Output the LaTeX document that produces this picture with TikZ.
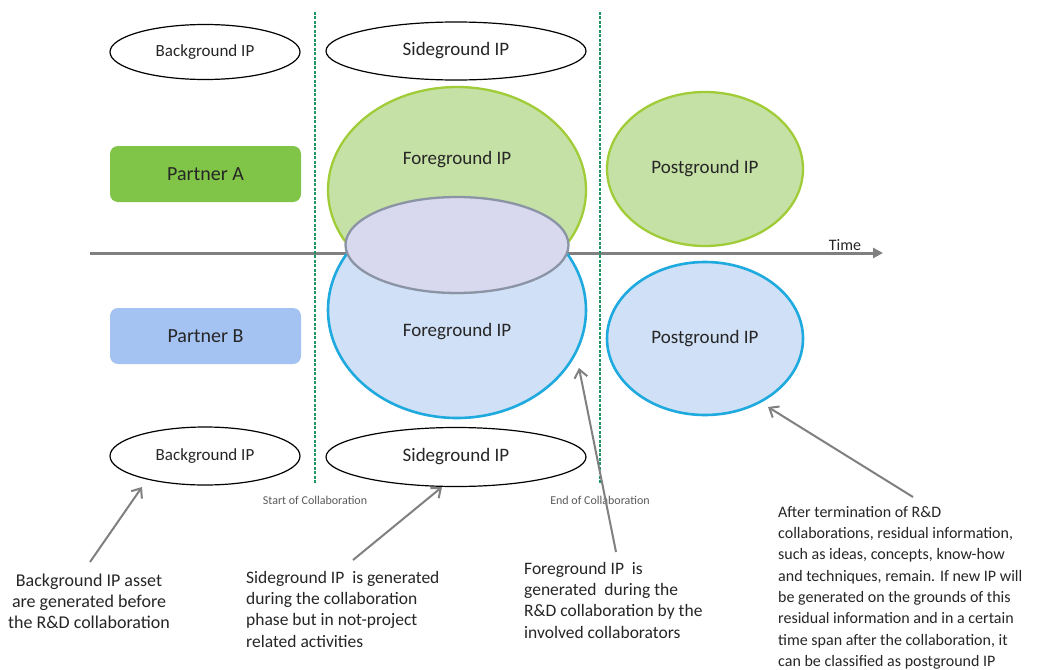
\documentclass[tikz,border=0pt]{standalone}
\usepackage{fontspec}
\setmainfont{Carlito}
\usetikzlibrary{shapes.geometric,arrows.meta}
\definecolor{txt}{RGB}{38,38,38}
\definecolor{pA}{RGB}{128,197,72}
\definecolor{pB}{RGB}{164,194,242}
\definecolor{gfill}{RGB}{198,225,166}
\definecolor{gline}{RGB}{160,204,56}
\definecolor{bfill}{RGB}{208,224,246}
\definecolor{bline}{RGB}{30,170,222}
\definecolor{lfill}{RGB}{216,216,238}
\definecolor{lline}{RGB}{138,148,164}
\definecolor{axisgray}{RGB}{128,128,128}
\definecolor{dash}{RGB}{30,150,100}
\definecolor{small}{RGB}{90,90,90}
\begin{document}
\begin{tikzpicture}[x=1pt,y=-1pt,
  ipwhite/.style={ellipse, draw=black, line width=1.2pt, fill=white, inner sep=0pt, text=txt},
  partner/.style={rounded corners=8pt, minimum width=191pt, minimum height=56pt, inner sep=0pt, text=black!85, font=\fontsize{20}{24}\selectfont},
  greenell/.style={ellipse, draw=gline, fill=gfill, line width=2.3pt, inner sep=0pt},
  blueell/.style={ellipse, draw=bline, fill=bfill, line width=2.6pt, inner sep=0pt},
  lavell/.style={ellipse, draw=lline, fill=lfill, line width=2.3pt, inner sep=0pt},
  iplabel/.style={text=txt, inner sep=0pt, font=\fontsize{19}{22}\selectfont},
  note/.style={text=txt, inner sep=0pt, font=\fontsize{16}{21.3}\selectfont},
  bignote/.style={text=txt, inner sep=0pt, font=\fontsize{17.5}{21.3}\selectfont},
  collab/.style={text=small, inner sep=0pt, font=\fontsize{12}{14}\selectfont},
  pointer/.style={draw=axisgray, line width=2pt, -{Straight Barb[length=8pt,width=13pt,line width=2pt]}},
  dashline/.style={draw=dash, line width=1.8pt, dash pattern=on 3pt off 1.5pt}
]
\useasboundingbox[fill=white] (0,0) rectangle (1046,669);

% time axis
\coordinate (t0) at (90,253);
\coordinate (t1) at (883,253);
\draw[draw=axisgray, line width=3pt, -{Triangle[length=10pt,width=10pt]}] (t0) -- (t1);
\node[text=txt, inner sep=0pt, font=\fontsize{16}{18}\selectfont, anchor=base] (time) at (845,250) {Time};

% collaboration borders
\coordinate (s0) at (315,12);
\coordinate (s1) at (315,483);
\coordinate (e0) at (600,12);
\coordinate (e1) at (600,483);
\draw[dashline] (s0) -- (s1);
\draw[dashline] (e0) -- (e1);
\node[collab, anchor=base] (startc) at (315,504) {Start of Collaboration};
\node[collab, anchor=base] (endc) at (600,504) {End of Collaboration};

% background / sideground
\node[ipwhite, minimum width=190pt, minimum height=55pt, font=\fontsize{17}{20}\selectfont] (bgA) at (205,52) {Background IP};
\node[ipwhite, minimum width=260pt, minimum height=58pt, font=\fontsize{19}{22}\selectfont] (sgA) at (456,51) {Sideground IP};
\node[ipwhite, minimum width=190pt, minimum height=58pt, font=\fontsize{17}{20}\selectfont] (bgB) at (205,456) {Background IP};
\node[ipwhite, minimum width=260pt, minimum height=59pt, font=\fontsize{19}{22}\selectfont] (sgB) at (456,457) {Sideground IP};

% partners
\node[partner, fill=pA] (partA) at (205.5,174) {Partner A};
\node[partner, fill=pB] (partB) at (205.5,336) {Partner B};

% foreground
\node[blueell, minimum width=258pt, minimum height=216pt] (fgB) at (457,310) {};
\node[greenell, minimum width=258pt, minimum height=206pt] (fgA) at (457,190) {};
\node[lavell, minimum width=223pt, minimum height=96pt] (joint) at (457,245) {};
\node[iplabel] (fgAl) at (457,160) {Foreground IP};
\node[iplabel] (fgBl) at (457,332) {Foreground IP};

% postground
\node[greenell, minimum width=196pt, minimum height=154pt, font=\fontsize{19}{22}\selectfont, text=txt] (pgA) at (705,169) {Postground IP};
\node[blueell, minimum width=196pt, minimum height=153pt, font=\fontsize{19}{22}\selectfont, text=txt] (pgB) at (705,338.5) {Postground IP};

% notes
\node[text=txt, inner sep=0pt, font=\fontsize{18}{21.3}\selectfont, align=center, anchor=north] (n1) at (89,573.5) {Background IP asset\\are generated before\\the R\&D collaboration};
\node[bignote, align=left, anchor=north west] (n2) at (246,571) {Sideground IP\ \ is generated\\during the collaboration\\phase but in not-project\\related activities};
\node[bignote, align=left, anchor=north west] (n3) at (524,562) {Foreground IP\ \ is\\generated\ \ during the\\R\&D collaboration by the\\involved collaborators};
\node[note, align=left, anchor=north west] (n4) at (778,506) {After termination of R\&D\\collaborations, residual information,\\such as ideas, concepts, know-how\\and techniques, remain. If new IP will\\be generated on the grounds of this\\residual information and in a certain\\time span after the collaboration, it\\can be classified as postground IP};

% pointers
\coordinate (a1s) at (90,562);
\coordinate (a1e) at (142,487);
\coordinate (a2s) at (353,560);
\coordinate (a2e) at (442,487);
\coordinate (a3s) at (616,552);
\coordinate (a3e) at (579,368);
\coordinate (a4s) at (913,497);
\coordinate (a4e) at (768,407);
\draw[pointer] (a1s) -- (a1e);
\draw[pointer] (a2s) -- (a2e);
\draw[pointer] (a3s) -- (a3e);
\draw[pointer] (a4s) -- (a4e);
\end{tikzpicture}
\end{document}
